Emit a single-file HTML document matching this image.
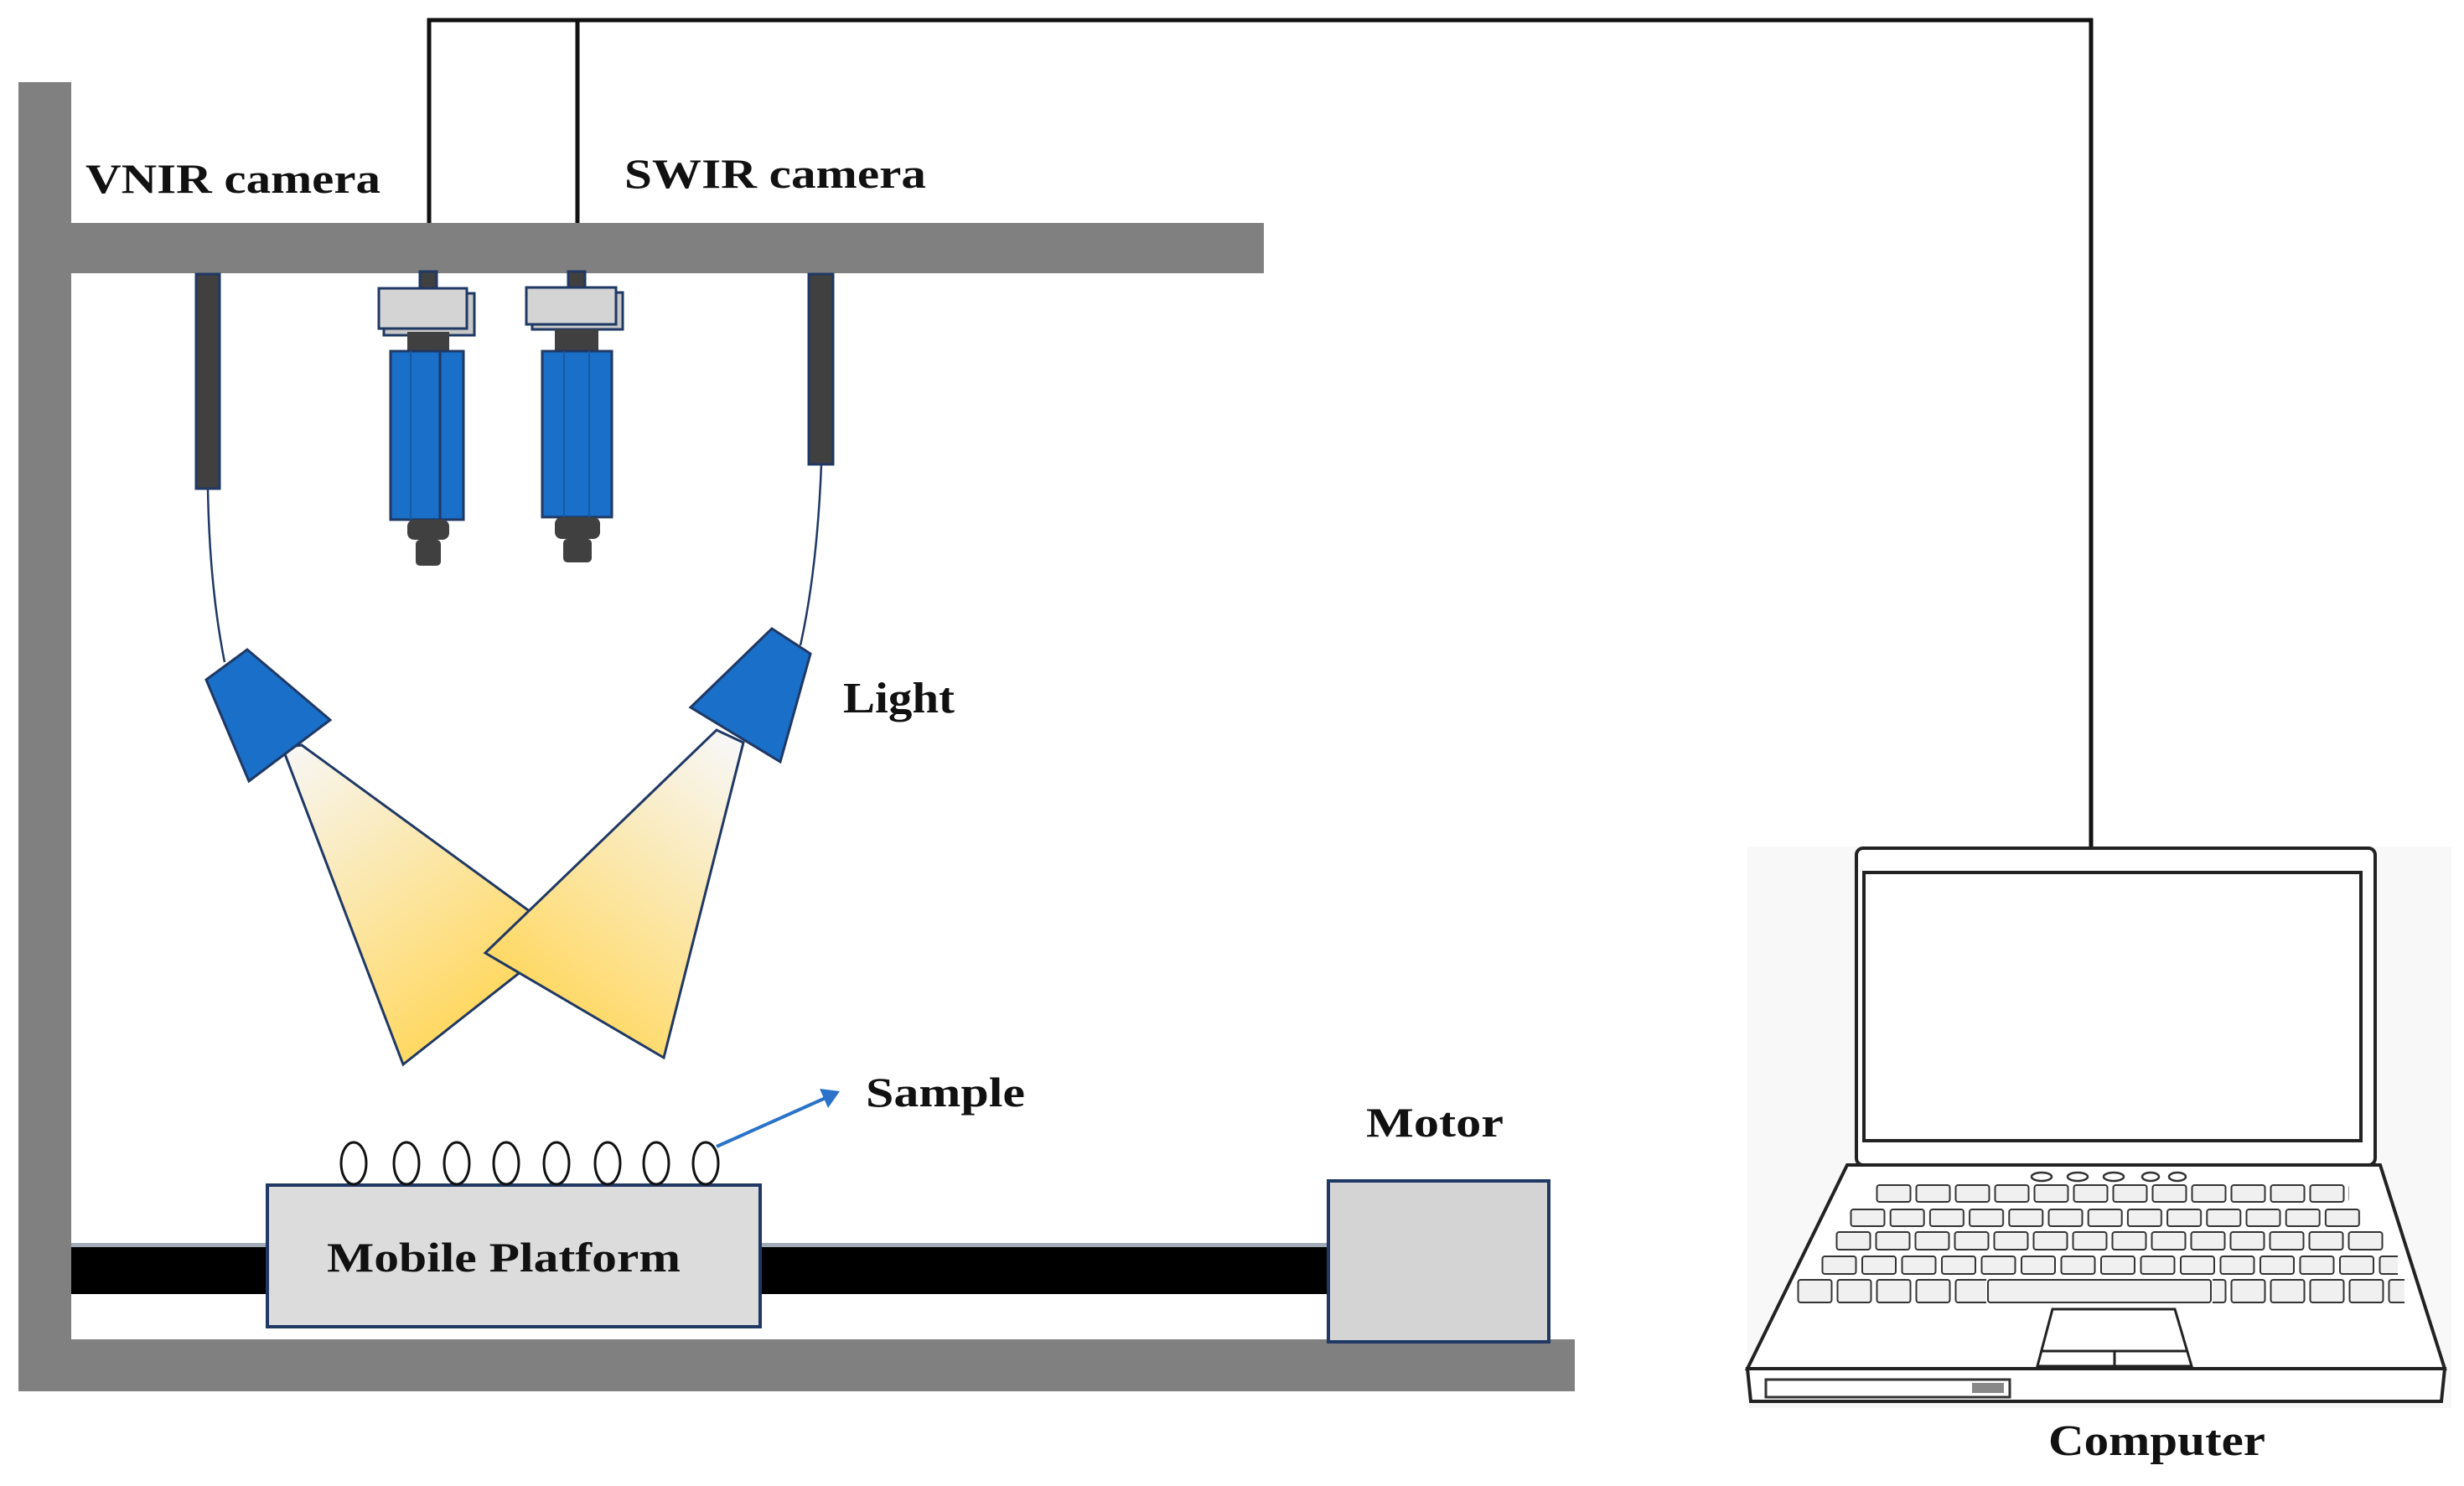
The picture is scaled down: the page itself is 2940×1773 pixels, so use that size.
<!DOCTYPE html>
<html><head><meta charset="utf-8"><style>
html,body{margin:0;padding:0;background:#fff;}
svg{display:block;}
text{font-family:"Liberation Serif",serif;font-weight:bold;fill:#111;}
</style></head><body>
<svg width="2940" height="1773" viewBox="0 0 2940 1773" xmlns="http://www.w3.org/2000/svg">
<defs>
<linearGradient id="gL" x1="337" y1="890" x2="560" y2="1200" gradientUnits="userSpaceOnUse">
<stop offset="0" stop-color="#f7f7f7"/><stop offset="1" stop-color="#ffd966"/></linearGradient>
<linearGradient id="gR" x1="870" y1="880" x2="640" y2="1180" gradientUnits="userSpaceOnUse">
<stop offset="0" stop-color="#f7f7f7"/><stop offset="1" stop-color="#ffd966"/></linearGradient>
<pattern id="k1" x="2238" y="0" width="47" height="2000" patternUnits="userSpaceOnUse"><rect x="1.5" y="1414" width="40" height="20" rx="3" fill="#f0f0f0" stroke="#333" stroke-width="2"/></pattern>
<pattern id="k2" x="2207" y="0" width="47.2" height="2000" patternUnits="userSpaceOnUse"><rect x="1.5" y="1443" width="40" height="20" rx="3" fill="#f0f0f0" stroke="#333" stroke-width="2"/></pattern>
<pattern id="k3" x="2190" y="0" width="47" height="2000" patternUnits="userSpaceOnUse"><rect x="1.5" y="1470" width="40" height="21" rx="3" fill="#f0f0f0" stroke="#333" stroke-width="2"/></pattern>
<pattern id="k4" x="2173" y="0" width="47.5" height="2000" patternUnits="userSpaceOnUse"><rect x="1.5" y="1499" width="40" height="21" rx="3" fill="#f0f0f0" stroke="#333" stroke-width="2"/></pattern>
<pattern id="k5" x="2144" y="0" width="47" height="2000" patternUnits="userSpaceOnUse"><rect x="1.5" y="1527" width="40" height="27" rx="3" fill="#f0f0f0" stroke="#333" stroke-width="2"/></pattern>
</defs>

<!-- wires -->
<polyline points="512,268 512,24 2495,24 2495,1012" fill="none" stroke="#111" stroke-width="5"/>
<line x1="689" y1="24" x2="689" y2="268" stroke="#111" stroke-width="5"/>

<!-- frame -->
<rect x="22" y="98" width="63" height="1562" fill="#808080"/>
<rect x="22" y="266" width="1486" height="60" fill="#808080"/>
<rect x="22" y="1598" width="1857" height="62" fill="#808080"/>

<!-- labels -->
<text x="102" y="230" font-size="50" textLength="352" lengthAdjust="spacingAndGlyphs">VNIR camera</text>
<text x="745" y="224" font-size="50" textLength="360" lengthAdjust="spacingAndGlyphs">SWIR camera</text>
<text x="1006" y="850" font-size="52" textLength="133" lengthAdjust="spacingAndGlyphs">Light</text>
<text x="1033" y="1320" font-size="50" textLength="190" lengthAdjust="spacingAndGlyphs">Sample</text>
<text x="1630" y="1356" font-size="50" textLength="164" lengthAdjust="spacingAndGlyphs">Motor</text>
<text x="2444" y="1736" font-size="52" textLength="259" lengthAdjust="spacingAndGlyphs">Computer</text>

<!-- light rods -->
<rect x="234" y="327" width="28" height="256" fill="#404040" stroke="#1f3864" stroke-width="3"/>
<rect x="965" y="327" width="29" height="227" fill="#404040" stroke="#1f3864" stroke-width="3"/>
<path d="M248,583 Q250,700 268,790" fill="none" stroke="#1f3864" stroke-width="2.5"/>
<path d="M980,554 Q975,680 955,770" fill="none" stroke="#1f3864" stroke-width="2.5"/>

<!-- cameras -->
<g stroke="#1f3864" stroke-width="3">
<rect x="501" y="324" width="20" height="20" fill="#404040"/>
<rect x="458" y="350" width="108" height="50" fill="#c8c8c8"/>
<rect x="452" y="344" width="105" height="48" fill="#d4d4d4"/>
<rect x="486" y="396" width="50" height="23" fill="#404040" stroke="none"/>
<rect x="466" y="419" width="87" height="201" fill="#1a6fc8"/>
<line x1="525" y1="419" x2="525" y2="620"/>
<line x1="490" y1="419" x2="490" y2="620" stroke="#155aa5" stroke-width="2"/>
<rect x="486" y="620" width="50" height="24" rx="8" fill="#404040" stroke="none"/>
<rect x="496" y="644" width="30" height="31" rx="5" fill="#404040" stroke="none"/>

<rect x="678" y="324" width="20" height="20" fill="#404040"/>
<rect x="635" y="349" width="108" height="44" fill="#c8c8c8"/>
<rect x="628" y="343" width="107" height="44" fill="#d4d4d4"/>
<rect x="662" y="393" width="52" height="26" fill="#404040" stroke="none"/>
<rect x="647" y="419" width="83" height="198" fill="#1a6fc8"/>
<line x1="673" y1="419" x2="673" y2="617" stroke="#155aa5" stroke-width="2"/>
<line x1="703" y1="419" x2="703" y2="617" stroke="#155aa5" stroke-width="2"/>
<rect x="662" y="617" width="54" height="26" rx="8" fill="#404040" stroke="none"/>
<rect x="672" y="643" width="34" height="28" rx="5" fill="#404040" stroke="none"/>
</g>

<!-- beams -->
<polygon points="337,892 360,889 674,1118 481,1270" fill="url(#gL)" stroke="#1f3864" stroke-width="3"/>
<polygon points="579,1137 855,871 887,886 792,1262" fill="url(#gR)" stroke="#1f3864" stroke-width="3"/>
<!-- lamps -->
<polygon points="246,811 295,775 394,859 297,932" fill="#1a6fc8" stroke="#1f3864" stroke-width="3"/>
<polygon points="824,844 921,750 967,780 931,909" fill="#1a6fc8" stroke="#1f3864" stroke-width="3"/>

<!-- rail & platform -->
<rect x="85" y="1483" width="1500" height="5" fill="#a0aab8"/>
<rect x="85" y="1488" width="1500" height="56" fill="#000"/>
<rect x="319" y="1414" width="588" height="169" fill="#dcdcdc" stroke="#1f3864" stroke-width="4"/>
<text x="390" y="1517" font-size="50" textLength="422" lengthAdjust="spacingAndGlyphs">Mobile Platform</text>
<rect x="1585" y="1409" width="263" height="192" fill="#d4d4d4" stroke="#1f3864" stroke-width="4"/>

<!-- samples -->
<g fill="none" stroke="#111" stroke-width="3">
<ellipse cx="422" cy="1388" rx="15" ry="25"/><ellipse cx="485" cy="1388" rx="15" ry="25"/>
<ellipse cx="545" cy="1388" rx="15" ry="25"/><ellipse cx="604" cy="1388" rx="15" ry="25"/>
<ellipse cx="664" cy="1388" rx="15" ry="25"/><ellipse cx="725" cy="1388" rx="15" ry="25"/>
<ellipse cx="783" cy="1388" rx="15" ry="25"/><ellipse cx="842" cy="1388" rx="15" ry="25"/>
</g>
<line x1="855" y1="1368" x2="985" y2="1310" stroke="#2a73c8" stroke-width="4"/>
<polygon points="1002,1302 978,1299 988,1322" fill="#2a73c8"/>

<!-- laptop -->
<rect x="2085" y="1010" width="840" height="670" fill="#f8f8f8"/>
<rect x="2215" y="1012" width="619" height="378" rx="8" fill="#fff" stroke="#222" stroke-width="4"/>
<rect x="2224" y="1041" width="593" height="320" fill="#fff" stroke="#222" stroke-width="4"/>
<polygon points="2204,1390 2840,1390 2917,1633 2085,1633" fill="#fff" stroke="#222" stroke-width="4"/>
<polygon points="2085,1633 2917,1633 2913,1672 2089,1672" fill="#fff" stroke="#222" stroke-width="4"/>
<rect x="2107" y="1646" width="291" height="21" fill="#fff" stroke="#333" stroke-width="3"/>
<rect x="2353" y="1650" width="38" height="12" fill="#888"/>
<g fill="none" stroke="#333" stroke-width="2.5">
<ellipse cx="2436" cy="1404" rx="12" ry="5"/><ellipse cx="2479" cy="1404" rx="12" ry="5"/>
<ellipse cx="2522" cy="1404" rx="12" ry="5"/><ellipse cx="2566" cy="1404" rx="10" ry="5"/>
<ellipse cx="2598" cy="1404" rx="10" ry="5"/>
</g>
<rect x="2238" y="1410" width="565" height="28" fill="url(#k1)"/>
<rect x="2207" y="1440" width="614" height="28" fill="url(#k2)"/>
<rect x="2190" y="1468" width="658" height="28" fill="url(#k3)"/>
<rect x="2173" y="1497" width="688" height="28" fill="url(#k4)"/>
<rect x="2144" y="1525" width="226" height="32" fill="url(#k5)"/>
<rect x="2372" y="1527" width="266" height="27" rx="3" fill="#f0f0f0" stroke="#333" stroke-width="2"/>
<rect x="2640" y="1525" width="229" height="32" fill="url(#k5)"/>
<polygon points="2449,1562 2595,1562 2615,1630 2431,1630" fill="#fff" stroke="#222" stroke-width="3"/>
<line x1="2437" y1="1612" x2="2609" y2="1612" stroke="#222" stroke-width="3"/>
<line x1="2523" y1="1612" x2="2523" y2="1630" stroke="#222" stroke-width="3"/>
</svg>
</body></html>
